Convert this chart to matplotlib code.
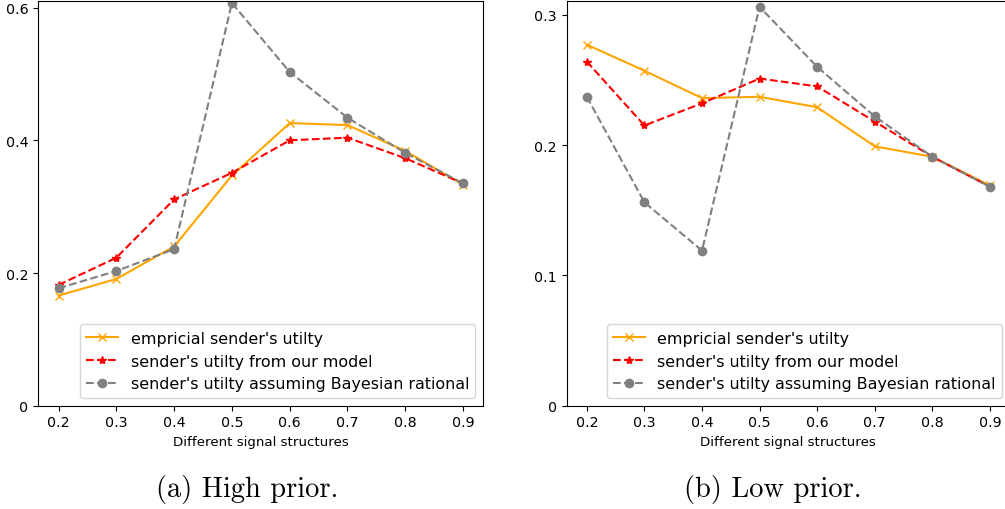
import matplotlib
matplotlib.use("Agg")
import matplotlib.pyplot as plt
from matplotlib.ticker import FuncFormatter

# Signal structures on the x axis
signal_structures = [0.2, 0.3, 0.4, 0.5, 0.6, 0.7, 0.8, 0.9]

# (a) High prior
high_empirical = [0.166, 0.191, 0.240, 0.347, 0.426, 0.423, 0.384, 0.333]
high_model = [0.182, 0.223, 0.311, 0.351, 0.400, 0.404, 0.373, 0.335]
high_bayesian = [0.177, 0.203, 0.236, 0.607, 0.503, 0.434, 0.381, 0.335]

# (b) Low prior
low_empirical = [0.277, 0.257, 0.236, 0.237, 0.229, 0.199, 0.191, 0.169]
low_model = [0.264, 0.215, 0.232, 0.251, 0.245, 0.218, 0.191, 0.168]
low_bayesian = [0.237, 0.156, 0.119, 0.306, 0.260, 0.222, 0.191, 0.168]

high_yticks = [0, 0.2, 0.4, 0.6]
low_yticks = [0, 0.1, 0.2, 0.3]

labels = ["empricial sender's utilty",
          "sender's utilty from our model",
          "sender's utilty assuming Bayesian rational"]
xlabel = "Different signal structures"
captions = ["(a) High prior.", "(b) Low prior."]

W, H = 1005, 510
fig = plt.figure(figsize=(W / 100, H / 100), dpi=100)


def px_axes(x0, y0, x1, y1):
    """Axes placed by pixel box (top-left origin)."""
    return fig.add_axes([x0 / W, 1 - y1 / H, (x1 - x0) / W, (y1 - y0) / H])


ax_high = px_axes(38.3, 2.0, 483.3, 406.7)
ax_low = px_axes(566.7, 2.0, 1010.0, 406.7)

panels = [
    (ax_high, high_empirical, high_model, high_bayesian, high_yticks, 0.610),
    (ax_low, low_empirical, low_model, low_bayesian, low_yticks, 0.3105),
]

for ax, emp, mod, bay, yt, ytop in panels:
    ax.plot(signal_structures, emp, color="orange", marker="x",
            linestyle="-", label=labels[0])
    ax.plot(signal_structures, mod, color="red", marker="*",
            linestyle="--", label=labels[1])
    ax.plot(signal_structures, bay, color="gray", marker="o",
            linestyle="--", label=labels[2])
    ax.set_xlim(0.165, 0.935)
    ax.set_ylim(0, ytop)
    ax.set_xticks(signal_structures)
    ax.xaxis.set_major_formatter(FuncFormatter(lambda v, _: f"{v:g}"))
    ax.set_yticks(yt)
    ax.yaxis.set_major_formatter(FuncFormatter(lambda v, _: f"{v:g}"))
    ax.tick_params(labelsize=10.3)
    ax.set_xlabel(xlabel, fontsize=9.6)
    ax.legend(loc="lower right", fontsize=11.4)

fig.text(247 / W, 1 - 490 / H, captions[0], family="cmr10", fontsize=20.5,
         ha="center", va="center")
fig.text(773 / W, 1 - 490 / H, captions[1], family="cmr10", fontsize=20.5,
         ha="center", va="center")

fig.savefig("out.png", dpi=100)
